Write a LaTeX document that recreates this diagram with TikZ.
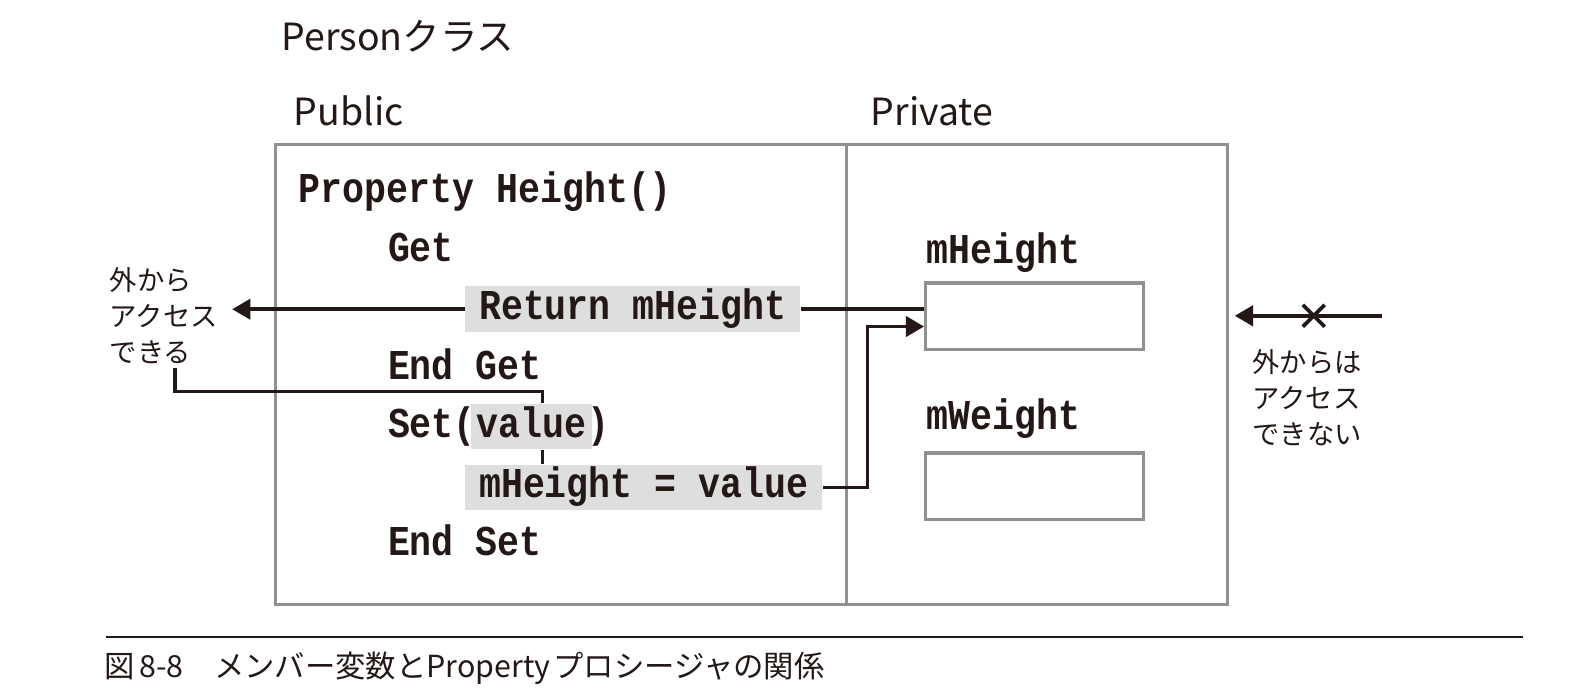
\documentclass[tikz,border=0pt]{standalone}
\usepackage{fontspec}
\setmainfont{Noto Sans CJK JP}
\newfontfamily\codefont[FakeStretch=0.86]{Liberation Mono}
\usetikzlibrary{arrows.meta,shapes.misc}
\definecolor{ink}{HTML}{231815}
\definecolor{framegray}{HTML}{919191}
\definecolor{hlgray}{HTML}{DEDEDE}

\begin{document}
\begin{tikzpicture}[x=.5pt,y=-.5pt,every node/.style={text=ink},
  title/.style={font=\fontsize{18.5}{22}\selectfont,anchor=base west,inner sep=0},
  codeline/.style={font=\codefont\bfseries\fontsize{21}{21}\selectfont,anchor=base west,inner sep=0,text height=14pt,text depth=3.5pt},
  hlbox/.style={fill=hlgray,inner xsep=7pt,inner ysep=2.5pt},
  panel/.style={draw=framegray,line width=1.6pt,minimum height=227pt,anchor=north west,inner sep=0,outer sep=0},
  varbox/.style={draw=framegray,line width=1.6pt,minimum width=107.5pt,minimum height=33pt,anchor=north west,inner sep=0},
  sidenote/.style={font=\fontsize{13.5}{17.75}\selectfont,align=left,anchor=west,inner sep=2pt},
  wire/.style={draw=ink,line width=1.8pt},
  wirearr/.style={wire,-{Triangle[length=9pt,width=10pt]}}]
  \useasboundingbox (0,0) rectangle (1567,687);
  % class frame
  \node[title] (cls) at (278,50) {Personクラス};
  \node[title] (pubt) at (290,124) {Public};
  \node[title] (privt) at (860,124) {Private};
  \node[panel,minimum width=282pt] (pub) at (272,143) {};
  \node[panel,minimum width=188.5pt] (priv) at (pub.north east) {};
  % property code
  \node[codeline] (prop) at (295,200) {Property Height()};
  \node[codeline] (get) at (383,258) {Get};
  \node[codeline,hlbox] (ret) at (459,316) {Return mHeight};
  \node[codeline] (endget) at (383,375) {End Get};
  \node[codeline] (setl) at (383,432) {Set(};
  \node[codeline,hlbox,inner xsep=3pt] (val) at ([xshift=-3pt]setl.base east) {value};
  \node[codeline] (setr) at ([xshift=-3pt]val.base east) {)};
  \node[codeline,hlbox] (asg) at (459,492) {mHeight = value};
  \node[codeline] (endset) at (383,549) {End Set};
  % member variables
  \node[codeline] (mhlbl) at (915,260) {mHeight};
  \node[varbox] (mhbox) at (913,278) {};
  \node[codeline] (mwlbl) at (915,424) {mWeight};
  \node[varbox] (mwbox) at (913,446) {};
  % notes
  \node[sidenote] (inlbl) at (104,312) {外から\\アクセス\\できる};
  \node[sidenote] (outlbl) at (1233,393) {外からは\\アクセス\\できない};
  \coordinate (farR) at (1365,312);
  \coordinate (wallR) at (1220,312);
  % connectors
  \draw[wirearr] (ret.west) -- ([xshift=5pt]inlbl.east |- ret.west);
  \draw[wire] (ret.east) -- (ret.east -| mhbox.west);
  \draw[wirearr] (asg.east) -- ++(44,0) |- ([yshift=-5pt]mhbox.west);
  \draw[wire] ([xshift=5.5pt]inlbl.south) -- ++(0,23) -| ([xshift=5.5pt]val.north);
  \draw[wire] ([xshift=5.5pt]val.south) -- ([xshift=5.5pt]val.south |- asg.north);
  \draw[wirearr] (farR) -- (wallR);
  \node[draw=ink,cross out,line width=1.8pt,minimum size=9pt,inner sep=0] (nox) at (1298,312) {};
  % caption
  \draw[draw=ink,line width=1pt] (105,629) -- (1505,629);
  \node[font=\fontsize{15}{18}\selectfont,anchor=west,inner sep=0] (fig) at (103,660) {図\hspace{.15em}8-8\quad メンバー変数とProperty\hspace{.1em}プロシージャの関係};
\end{tikzpicture}
\end{document}
